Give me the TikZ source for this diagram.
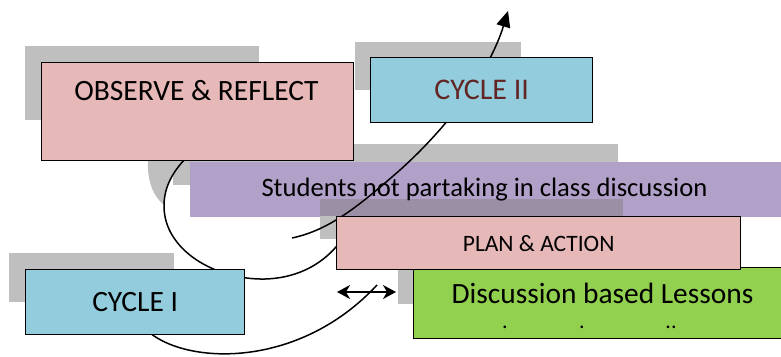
\documentclass[tikz,border=0pt]{standalone}
\usepackage{fontspec}
\setmainfont{Carlito}
\usetikzlibrary{arrows.meta,positioning}
\definecolor{boxpink}{HTML}{E6B9B8}
\definecolor{boxblue}{HTML}{93CDDD}
\definecolor{boxpurple}{HTML}{B1A0C7}
\definecolor{boxgreen}{HTML}{92D050}
\definecolor{shadowgray}{HTML}{BFBFBF}
\definecolor{darkpurple}{HTML}{9B8FA6}
\definecolor{cyclered}{HTML}{632523}

\begin{document}
\begin{tikzpicture}[x=1pt, y=-1pt, line width=1.3pt,
    box/.style={draw=black, rectangle, inner sep=0pt, anchor=north west},
    shade/.style={fill=shadowgray, draw=none},
    flow/.style={draw=black, line width=1.5pt}]
    \useasboundingbox (0,0) rectangle (781,356);
    \clip (0,0) rectangle (781,356);

    % Shadows
    \fill[shade] (25,46) rectangle (259,120);
    \fill[shade] (355,42) rectangle (521,90);
    \fill[shade] (173,144) rectangle (618,185);
    \fill[shade] (148,161) .. controls (147,182) and (154,197) .. (164,205) .. controls (164,188) and (171,172) .. (185,161) -- cycle;
    \fill[shade] (9,253) rectangle (174,302);
    \fill[shade] (398,269) rectangle (620,304);

    % Problem
    \node[box, draw=none, fill=boxpurple, minimum width=592pt, minimum height=55pt] (problem) at (189,161) {};
    \fill[shade] (320,216) rectangle (623,239);
    \fill[darkpurple] (320,199) rectangle (623,216);
    \node[font=\fontsize{26.6}{30}\selectfont, anchor=base] (problem-text) at (484.5,196.5) {Students not partaking in class discussion};

    % Cycle arrows
    \coordinate (loop-start) at (185,159);
    \coordinate (loop-end) at (340,242);
    \coordinate (rise-start) at (292,238);
    \coordinate (rise-tip) at (508,11);
    \coordinate (back-start) at (150,333);
    \coordinate (back-end) at (377,285);
    \draw[flow] (loop-start) .. controls (170,175) and (164,190) .. (164,206) .. controls (164,250) and (215,280) .. (265,279) .. controls (300,278) and (325,262) .. (loop-end);
    \draw[flow, -{Triangle[length=16pt,width=14pt]}] (rise-start) .. controls (330,230) and (360,205) .. (400,170) .. controls (450,125) and (490,70) .. (rise-tip);
    \draw[flow] (back-start) .. controls (190,365) and (300,368) .. (back-end);

    % Boxes
    \node[box, fill=boxpink, minimum width=312pt, minimum height=98pt] (observe) at (41,62) {};
    \node[font=\fontsize{29.5}{32}\selectfont, anchor=base] (observe-text) at (196.5,100.5) {OBSERVE \& REFLECT};
    \node[box, fill=boxblue, minimum width=222pt, minimum height=65pt, text=cyclered, font=\fontsize{30}{32}\selectfont] (cycle2) at (370,57) {CYCLE II};
    \node[box, fill=boxgreen, minimum width=377pt, minimum height=71pt] (lessons) at (413,267) {};
    \node[font=\fontsize{29.4}{32}\selectfont, anchor=base] (lessons-text) at (602.5,303) {Discussion based Lessons};
    \foreach \x/\t in {505/., 582/., 671/..}
        \node[font=\fontsize{22}{24}\selectfont, anchor=base] (dot-\x) at (\x,328) {\t};
    \node[box, fill=boxpink, minimum width=404pt, minimum height=53pt, font=\fontsize{23.5}{26}\selectfont] (plan) at (336,216) {PLAN \& ACTION};
    \node[box, fill=boxblue, minimum width=219pt, minimum height=65pt, font=\fontsize{29.5}{32}\selectfont] (cycle1) at (25,269) {CYCLE I};

    % Two-way arrow
    \coordinate (swap-l) at (337,292);
    \coordinate (swap-r) at (396,292);
    \draw[flow, {Stealth[length=13pt,width=14pt,inset=4pt]}-{Stealth[length=13pt,width=14pt,inset=4pt]}] (swap-l) -- (swap-r);
\end{tikzpicture}
\end{document}
